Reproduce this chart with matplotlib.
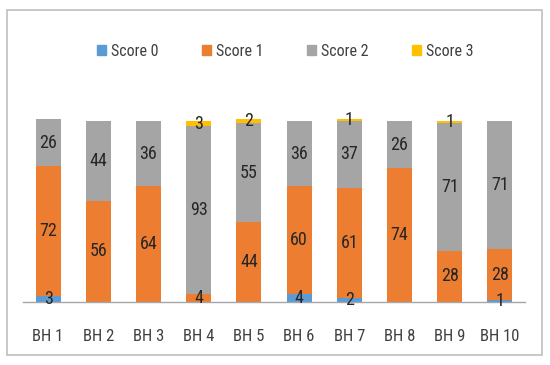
import matplotlib
matplotlib.use("Agg")
import matplotlib.pyplot as plt
from matplotlib.patches import Patch, Rectangle
from matplotlib import font_manager
import numpy as np

categories = ["BH 1", "BH 2", "BH 3", "BH 4", "BH 5", "BH 6", "BH 7", "BH 8", "BH 9", "BH 10"]
series_names = ["Score 0", "Score 1", "Score 2", "Score 3"]
score0 = [3, 0, 0, 0, 0, 4, 2, 0, 0, 1]
score1 = [72, 56, 64, 4, 44, 60, 61, 74, 28, 28]
score2 = [26, 44, 36, 93, 55, 36, 37, 26, 71, 71]
score3 = [0, 0, 0, 3, 2, 0, 1, 0, 1, 0]
colors = ["#5B9BD5", "#ED7D31", "#A5A5A5", "#FFC000"]

names = {f.name for f in font_manager.fontManager.ttflist}
cands = ["Liberation Sans Narrow", "Roboto Condensed", "Open Sans Condensed", "Roboto"]
first = next((c for c in cands if c in names), "DejaVu Sans")
plt.rcParams['font.family'] = [first, "DejaVu Sans"]

fig = plt.figure(figsize=(5.5, 3.65), dpi=100)
ax = fig.add_axes([23/550, 63.3/365, 502/550, 189.7/365])

x = np.arange(len(categories))
series = [score0, score1, score2, score3]
bottom = np.zeros(len(categories))
for name, vals, c in zip(series_names, series, colors):
    vals = np.array(vals, dtype=float)
    ax.bar(x, vals, width=0.5, bottom=bottom, color=c, label=name, zorder=2)
    for xi, v, b in zip(x, vals, bottom):
        if v > 0:
            ax.text(xi, b + v / 2, f"{int(v)}", ha="center", va="center",
                    fontsize=13, color="#262626", zorder=3)
    bottom += vals

ax.set_xlim(-0.5, len(categories) - 0.5)
ax.set_ylim(0, 105)
ax.set_yticks([])
ax.set_xticks(x)
ax.set_xticklabels(categories, fontsize=12, color="#404040")
ax.tick_params(axis="x", length=0, pad=20)
for s in ["top", "right", "left"]:
    ax.spines[s].set_visible(False)
ax.spines["bottom"].set_color("#A6A6A6")
ax.spines["bottom"].set_linewidth(1.0)

handles = [Patch(color=c) for c in colors]
fig.legend(handles, series_names, loc="center", bbox_to_anchor=(285/550, 1 - 51/365),
           ncol=4, frameon=False, fontsize=11.5, handlelength=0.6, handleheight=0.6,
           handletextpad=0.3, columnspacing=2.7, labelcolor="#404040")

fig.patches.append(Rectangle((7/550, 10/365), 535/550, 345/365, transform=fig.transFigure,
                             fill=False, edgecolor="#BFBFBF", linewidth=1.2))

fig.savefig("out.png", dpi=100)
